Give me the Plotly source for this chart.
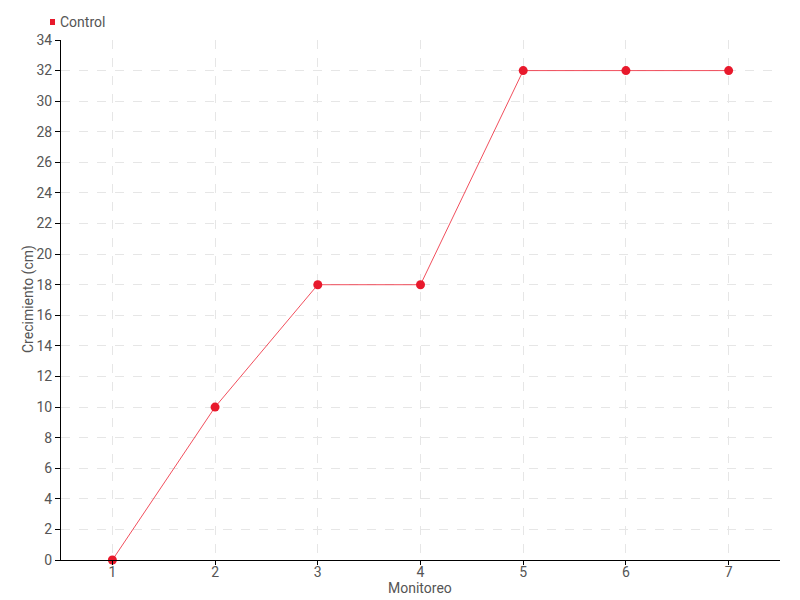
import plotly.graph_objects as go

categories = ["1", "2", "3", "4", "5", "6", "7"]
control = [0, 10, 18, 18, 32, 32, 32]
y_ticks = list(range(0, 35, 2))
series_name = "Control"
x_title = "Monitoreo"
y_title = "Crecimiento (cm)"

RED = "#e8192c"
FONT = "Roboto, sans-serif"
TXT = "#555555"

# page body has an 8px margin, so the figure is sized to fill 800x600 exactly
W, H = 792, 592
L, R, T, B = 53, 20, 32, 40
PW, PH = W - L - R, H - T - B

fig = go.Figure()
fig.add_trace(go.Scatter(
    x=categories, y=control, mode="lines+markers", name=series_name,
    line=dict(color="rgba(240,60,75,0.9)", width=1),
    marker=dict(color=RED, size=9),
    cliponaxis=False,
    showlegend=False,
))

fig.update_layout(
    width=W, height=H,
    margin=dict(l=L, r=R, t=T, b=B),
    plot_bgcolor="white", paper_bgcolor="white",
    font=dict(family=FONT, size=14, color=TXT),
    xaxis=dict(
        type="category", range=[-0.5, 6.5], automargin=False,
        showline=True, linecolor="black", linewidth=1,
        ticks="outside", ticklen=4, tickcolor="black",
        showgrid=True, gridcolor="#e6e6e6", griddash="dash", gridwidth=1,
        ticklabelstandoff=-5,
        tickfont=dict(size=14, color=TXT),
    ),
    yaxis=dict(
        range=[0, 34], tickvals=y_ticks, automargin=False,
        showline=True, linecolor="black", linewidth=1,
        ticks="outside", ticklen=5, tickcolor="black",
        showgrid=True, gridcolor="#e6e6e6", griddash="dash", gridwidth=1,
        zeroline=False,
        tickfont=dict(size=14, color=TXT),
    ),
)

# positions in figure pixels -> paper coords
def px(x):
    return (x - L) / PW

def py(y):
    return (H - B - y) / PH

# axis titles
fig.add_annotation(text=x_title, xref="paper", yref="paper",
                   x=px(412), y=py(580), xanchor="center", yanchor="middle",
                   showarrow=False, font=dict(family=FONT, size=14, color=TXT))
fig.add_annotation(text=y_title, xref="paper", yref="paper", textangle=-90,
                   x=px(20), y=py(291), xanchor="center", yanchor="middle",
                   showarrow=False, font=dict(family=FONT, size=14, color=TXT))

# legend drawn manually (square swatch + label)
fig.add_shape(type="rect", xref="paper", yref="paper",
              x0=px(42), x1=px(47), y0=py(17), y1=py(11),
              fillcolor=RED, line=dict(width=0))
fig.add_annotation(text=series_name, xref="paper", yref="paper",
                   x=px(50), y=py(14), xanchor="left", yanchor="middle",
                   showarrow=False, font=dict(family=FONT, size=14, color=TXT))

fig.write_html("out.html")
